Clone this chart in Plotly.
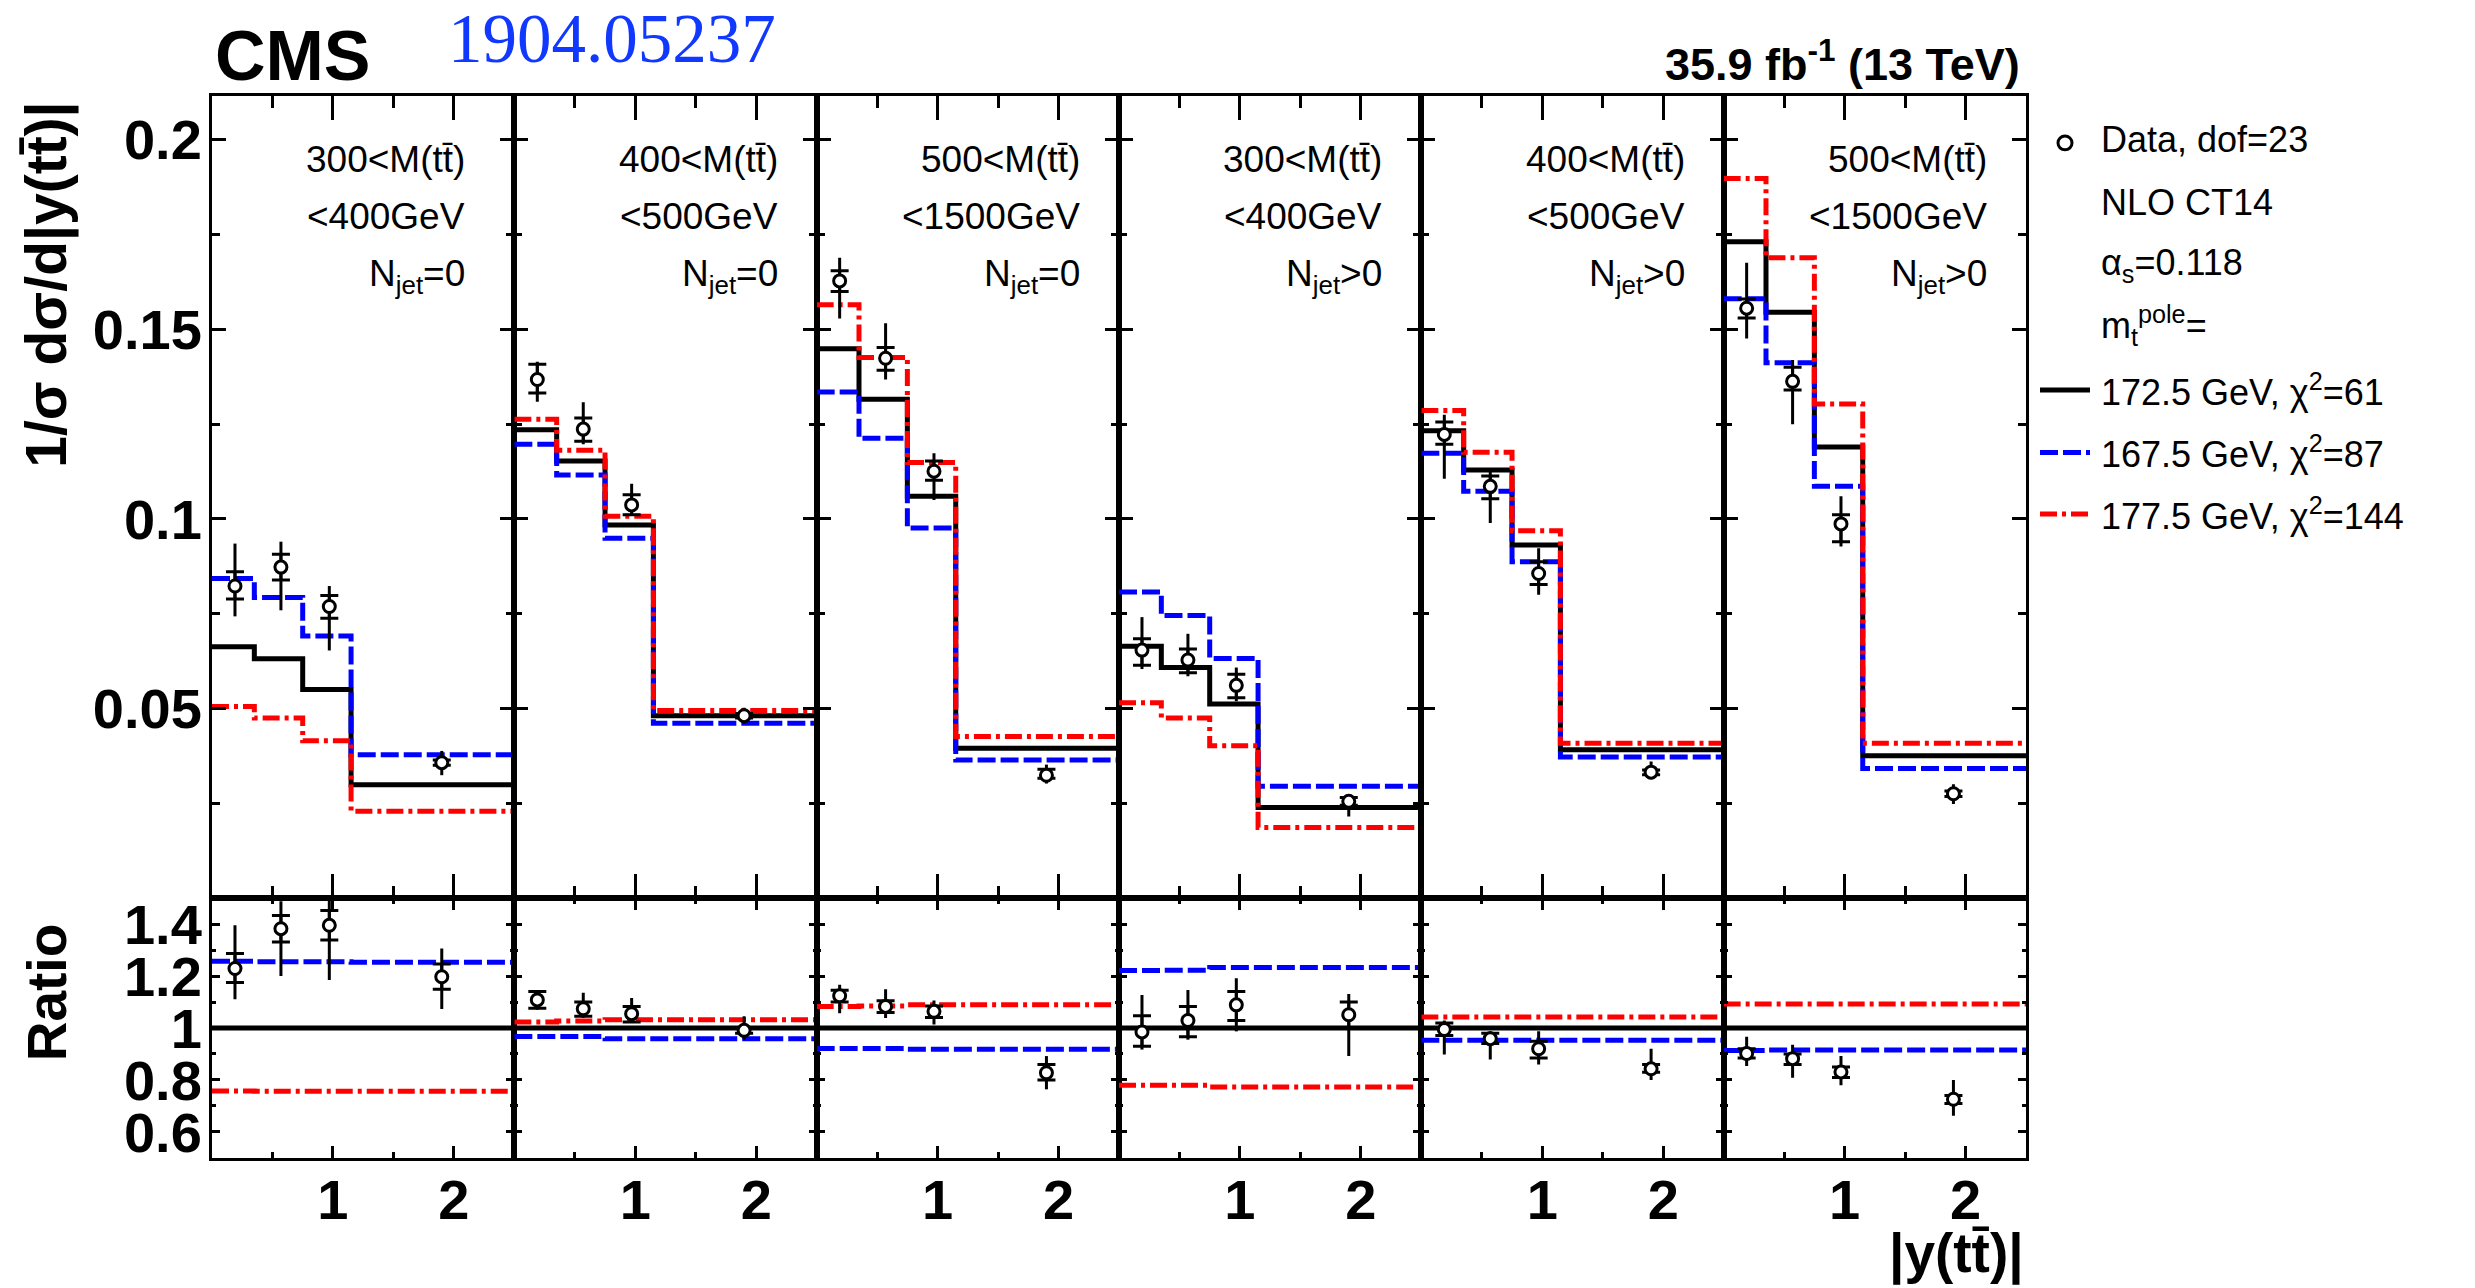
import plotly.graph_objects as go

FIG_W, FIG_H = 2475, 1288

# |y(ttbar)| binning and the x positions at which the data points are drawn
bin_edges = [0.0, 0.35, 0.75, 1.15, 2.5]
point_x = [0.19, 0.57, 0.97, 1.90]

# panel selections (M(ttbar) window and jet multiplicity)
mass_low = ["300", "400", "500", "300", "400", "500"]
mass_high = ["400", "500", "1500", "400", "500", "1500"]
njet_sel = ["=0", "=0", "=0", ">0", ">0", ">0"]

# NLO CT14 predictions, 1/sigma dsigma/d|y(ttbar)|, one list per panel
pred_1725 = [
    [0.0663, 0.0631, 0.0550, 0.0299],
    [0.1235, 0.1153, 0.0984, 0.0481],
    [0.1449, 0.1316, 0.1060, 0.0395],
    [0.0664, 0.0608, 0.0512, 0.0239],
    [0.1233, 0.1129, 0.0931, 0.0391],
    [0.1731, 0.1545, 0.1190, 0.0375],
]
pred_1675 = [
    [0.0843, 0.0793, 0.0691, 0.0378],
    [0.1197, 0.1116, 0.0949, 0.0461],
    [0.1335, 0.1213, 0.0976, 0.0364],
    [0.0807, 0.0745, 0.0632, 0.0295],
    [0.1173, 0.1073, 0.0887, 0.0372],
    [0.1581, 0.1412, 0.1086, 0.0342],
]
pred_1775 = [
    [0.0505, 0.0475, 0.0415, 0.0229],
    [0.1263, 0.1181, 0.1007, 0.0495],
    [0.1565, 0.1426, 0.1149, 0.0426],
    [0.0515, 0.0475, 0.0402, 0.0186],
    [0.1286, 0.1176, 0.0969, 0.0408],
    [0.1898, 0.1689, 0.1303, 0.0408],
]

# measured cross sections with inner (crossbar) and total uncertainty ranges
data_val = [
    [0.0823, 0.0873, 0.0769, 0.0357],
    [0.1368, 0.1237, 0.1037, 0.0481],
    [0.1628, 0.1424, 0.1126, 0.0324],
    [0.0654, 0.0628, 0.0561, 0.0255],
    [0.1223, 0.1086, 0.0856, 0.0332],
    [0.1556, 0.1363, 0.0987, 0.0275],
]
data_in_lo = [
    [0.0789, 0.0839, 0.0738, 0.0350],
    [0.1332, 0.1205, 0.1011, 0.0475],
    [0.1600, 0.1392, 0.1102, 0.0316],
    [0.0614, 0.0594, 0.0528, 0.0245],
    [0.1197, 0.1053, 0.0827, 0.0325],
    [0.1530, 0.1340, 0.0940, 0.0268],
]
data_in_hi = [
    [0.0861, 0.0907, 0.0798, 0.0364],
    [0.1408, 0.1266, 0.1064, 0.0487],
    [0.1655, 0.1452, 0.1153, 0.0340],
    [0.0684, 0.0657, 0.0590, 0.0265],
    [0.1256, 0.1113, 0.0887, 0.0338],
    [0.1580, 0.1400, 0.1011, 0.0282],
]
data_tot_lo = [
    [0.0743, 0.0759, 0.0653, 0.0324],
    [0.1309, 0.1197, 0.1011, 0.0460],
    [0.1529, 0.1368, 0.1050, 0.0302],
    [0.0604, 0.0585, 0.0519, 0.0215],
    [0.1106, 0.0989, 0.0800, 0.0313],
    [0.1476, 0.1250, 0.0927, 0.0248],
]
data_tot_hi = [
    [0.0935, 0.0940, 0.0823, 0.0388],
    [0.1415, 0.1308, 0.1093, 0.0502],
    [0.1689, 0.1516, 0.1173, 0.0352],
    [0.0741, 0.0697, 0.0608, 0.0272],
    [0.1275, 0.1133, 0.0923, 0.0360],
    [0.1676, 0.1419, 0.1060, 0.0300],
]

# ratios to the 172.5 GeV prediction
ratio_1725 = [[1.0, 1.0, 1.0, 1.0] for _ in range(6)]
ratio_1675 = [
    [1.257, 1.255, 1.255, 1.253],
    [0.967, 0.967, 0.959, 0.959],
    [0.921, 0.921, 0.918, 0.918],
    [1.221, 1.222, 1.233, 1.233],
    [0.953, 0.953, 0.953, 0.953],
    [0.913, 0.915, 0.915, 0.915],
]
ratio_1775 = [
    [0.758, 0.757, 0.757, 0.757],
    [1.023, 1.027, 1.032, 1.032],
    [1.083, 1.085, 1.089, 1.089],
    [0.780, 0.780, 0.773, 0.773],
    [1.042, 1.042, 1.042, 1.042],
    [1.092, 1.092, 1.092, 1.092],
]
ratio_val = [
    [1.229, 1.382, 1.395, 1.197],
    [1.108, 1.074, 1.055, 0.991],
    [1.124, 1.083, 1.064, 0.828],
    [0.985, 1.029, 1.089, 1.051],
    [0.994, 0.959, 0.920, 0.843],
    [0.902, 0.882, 0.831, 0.726],
]
ratio_in_lo = [
    [1.175, 1.331, 1.338, 1.149],
    [1.076, 1.045, 1.023, 0.980],
    [1.100, 1.060, 1.040, 0.800],
    [0.930, 0.966, 1.029, 1.000],
    [0.971, 0.940, 0.885, 0.830],
    [0.885, 0.860, 0.810, 0.710],
]
ratio_in_hi = [
    [1.287, 1.433, 1.452, 1.246],
    [1.140, 1.100, 1.083, 1.002],
    [1.145, 1.105, 1.085, 0.860],
    [1.047, 1.083, 1.140, 1.100],
    [1.019, 0.980, 0.949, 0.860],
    [0.920, 0.900, 0.850, 0.740],
]
ratio_tot_lo = [
    [1.111, 1.200, 1.185, 1.073],
    [1.070, 1.038, 1.019, 0.955],
    [1.057, 1.038, 1.013, 0.764],
    [0.917, 0.955, 0.987, 0.892],
    [0.898, 0.879, 0.860, 0.800],
    [0.854, 0.809, 0.780, 0.662],
]
ratio_tot_hi = [
    [1.395, 1.488, 1.490, 1.306],
    [1.146, 1.136, 1.115, 1.045],
    [1.166, 1.149, 1.106, 0.892],
    [1.127, 1.146, 1.191, 1.131],
    [1.029, 0.987, 0.987, 0.920],
    [0.966, 0.936, 0.892, 0.800],
]

x_tickvals = [1, 2]
x_ticktext = ["1", "2"]
y_tickvals_top = [0.05, 0.1, 0.15, 0.2]
y_ticktext_top = ["0.05", "0.1", "0.15", "0.2"]
y_tickvals_ratio = [0.6, 0.8, 1.0, 1.2, 1.4]
y_ticktext_ratio = ["0.6", "0.8", "1", "1.2", "1.4"]

legend_lines = [
    "172.5 GeV, χ<sup>2</sup>=61",
    "167.5 GeV, χ<sup>2</sup>=87",
    "177.5 GeV, χ<sup>2</sup>=144",
]

# ---------------------------------------------------------------- styling
FONT = "Liberation Sans"
SERIF = "Liberation Serif"
BLACK = "#000000"
BLUE = "#0000ff"
RED = "#ff0000"
LW = 5
DASH_BLUE = "18px,5px"
DASH_RED = "17px,5px,4px,5px"
models = [
    (BLACK, "solid"),
    (BLUE, DASH_BLUE),
    (RED, DASH_RED),
]

L, R = 212, 2026
PW = (R - L) / 6.0
TOP, MID, BOT = 92, 900, 1162


def fx(p):
    return p / FIG_W


def fy(p):
    return 1.0 - p / FIG_H


def ax_name(k):
    return "" if k == 1 else str(k)


fig = go.Figure()
layout = {}


def step_xy(vals):
    return bin_edges, list(vals) + [vals[-1]]


def add_points(k, val, in_lo, in_hi, tot_lo, tot_hi):
    xa, ya = "x" + ax_name(k), "y" + ax_name(k)
    fig.add_trace(go.Scatter(
        x=point_x, y=val, mode="markers", xaxis=xa, yaxis=ya,
        marker=dict(size=1, color="rgba(0,0,0,0)"),
        error_y=dict(type="data", symmetric=False,
                     array=[h - v for h, v in zip(tot_hi, val)],
                     arrayminus=[v - l for v, l in zip(val, tot_lo)],
                     width=0, thickness=3, color=BLACK),
        showlegend=False, hoverinfo="skip"))
    fig.add_trace(go.Scatter(
        x=point_x, y=val, mode="markers", xaxis=xa, yaxis=ya,
        marker=dict(symbol="circle", size=12, color="white",
                    line=dict(color=BLACK, width=3)),
        error_y=dict(type="data", symmetric=False,
                     array=[h - v for h, v in zip(in_hi, val)],
                     arrayminus=[v - l for v, l in zip(val, in_lo)],
                     width=9, thickness=3, color=BLACK),
        showlegend=False))


tick_font = dict(family=FONT, size=56, color=BLACK, weight="bold")

for i in range(6):
    k_up, k_lo = i + 1, i + 7
    xdom = [fx(L + i * PW), fx(L + (i + 1) * PW)]

    # upper panel curves and data
    for (col, dash), pred in zip(models, [pred_1725[i], pred_1675[i], pred_1775[i]]):
        xs, ys = step_xy(pred)
        fig.add_trace(go.Scatter(
            x=xs, y=ys, mode="lines", xaxis="x" + ax_name(k_up), yaxis="y" + ax_name(k_up),
            line=dict(shape="hv", color=col, width=LW, dash=dash),
            showlegend=False))
    add_points(k_up, data_val[i], data_in_lo[i], data_in_hi[i], data_tot_lo[i], data_tot_hi[i])

    # ratio panel
    for (col, dash), rat in zip(models, [ratio_1725[i], ratio_1675[i], ratio_1775[i]]):
        xs, ys = step_xy(rat)
        fig.add_trace(go.Scatter(
            x=xs, y=ys, mode="lines", xaxis="x" + ax_name(k_lo), yaxis="y" + ax_name(k_lo),
            line=dict(shape="hv", color=col, width=LW, dash=dash),
            showlegend=False))
    add_points(k_lo, ratio_val[i], ratio_in_lo[i], ratio_in_hi[i], ratio_tot_lo[i], ratio_tot_hi[i])

    common_x = dict(range=[0, 2.5], showline=True, linewidth=3, linecolor=BLACK,
                    mirror="allticks", ticks="inside", tickwidth=3, tickcolor=BLACK,
                    tickmode="array", tickvals=x_tickvals, ticktext=x_ticktext,
                    showgrid=False, zeroline=False, tickfont=tick_font)
    layout["xaxis" + ax_name(k_up)] = dict(
        common_x, domain=xdom, anchor="y" + ax_name(k_up), ticklen=24,
        showticklabels=False,
        minor=dict(tickmode="array", tickvals=[0.5, 1.5], ticklen=12, tickwidth=3,
                   ticks="inside", tickcolor=BLACK, showgrid=False))
    layout["xaxis" + ax_name(k_lo)] = dict(
        common_x, domain=xdom, anchor="y" + ax_name(k_lo), ticklen=12,
        showticklabels=True, ticklabelstandoff=-9,
        minor=dict(tickmode="array", tickvals=[0.5, 1.5], ticklen=6, tickwidth=3,
                   ticks="inside", tickcolor=BLACK, showgrid=False))

    common_y = dict(showline=True, linewidth=3, linecolor=BLACK, mirror="allticks",
                    ticks="inside", tickwidth=3, tickcolor=BLACK, tickmode="array",
                    showgrid=False, zeroline=False, tickfont=tick_font,
                    showticklabels=(i == 0), ticklabelstandoff=-4)
    layout["yaxis" + ax_name(k_up)] = dict(
        common_y, domain=[fy(MID), fy(TOP)], anchor="x" + ax_name(k_up),
        range=[0.0, 0.2115], tickvals=y_tickvals_top, ticktext=y_ticktext_top, ticklen=14,
        minor=dict(tickmode="array", tickvals=[0.025, 0.075, 0.125, 0.175], ticklen=8,
                   tickwidth=3, ticks="inside", tickcolor=BLACK, showgrid=False))
    layout["yaxis" + ax_name(k_lo)] = dict(
        common_y, domain=[fy(BOT), fy(MID)], anchor="x" + ax_name(k_lo),
        range=[0.5, 1.5], tickvals=y_tickvals_ratio, ticktext=y_ticktext_ratio, ticklen=8,
        minor=dict(tickmode="array", tickvals=[0.7, 0.9, 1.1, 1.3], ticklen=4,
                   tickwidth=3, ticks="inside", tickcolor=BLACK, showgrid=False))

# ---------------------------------------------------------------- text
ann = []


def text(x, y, s, size, xanchor="left", bold=False, family=FONT, color=BLACK, angle=0):
    ann.append(dict(x=fx(x), y=fy(y), xref="paper", yref="paper", text=s,
                    showarrow=False, xanchor=xanchor, yanchor="middle", textangle=angle,
                    font=dict(family=family, size=size, color=color,
                              weight="bold" if bold else "normal")))


for i in range(6):
    right = L + (i + 1) * PW - (47 if i == 0 else 37)
    text(right, 156, f"{mass_low[i]}<M(tt\u0304)", 37, "right")
    text(right, 213, f"<{mass_high[i]}GeV", 37, "right")
    text(right, 273, f"N<sub>jet</sub>{njet_sel[i]}", 37, "right")

text(213, 51, "CMS", 70, "left", bold=True)
text(446, 34, "1904.05237", 69, "left", family=SERIF, color="#1038ff")
text(2022, 56, "35.9 fb<sup>-1</sup> (13 TeV)", 45, "right", bold=True)

text(47, 282, "1/σ dσ/d|y(tt\u0304)|", 57, "center", bold=True, angle=-90)
text(47, 995, "Ratio", 55, "center", bold=True, angle=-90)
text(2026, 1258, "|y(tt\u0304)|", 55, "right", bold=True)

# legend block
LEG_X = 2099
text(LEG_X, 136, "Data, dof=23", 36)
text(LEG_X, 199, "NLO CT14", 36)
text(LEG_X, 262, "α<sub>s</sub>=0.118", 36)
text(LEG_X, 323, "m<sub>t</sub><sup>pole</sup>=", 36)
leg_y = [388, 451, 513]
for s, yy in zip(legend_lines, leg_y):
    text(LEG_X, yy, s, 36)

shapes = [dict(type="circle", xref="paper", yref="paper",
               x0=fx(2058), x1=fx(2072), y0=fy(146), y1=fy(132),
               line=dict(color=BLACK, width=3), fillcolor="white")]
for (col, dash), yy in zip(models, leg_y):
    shapes.append(dict(type="line", xref="paper", yref="paper",
                       x0=fx(2040), x1=fx(2090), y0=fy(yy), y1=fy(yy),
                       line=dict(color=col, width=LW, dash=dash)))

fig.update_layout(
    width=FIG_W, height=FIG_H,
    margin=dict(l=0, r=0, t=0, b=0),
    paper_bgcolor="white", plot_bgcolor="white",
    font=dict(family=FONT, color=BLACK),
    annotations=ann, shapes=shapes,
    showlegend=False,
    **layout,
)

fig.write_html("out.html")
